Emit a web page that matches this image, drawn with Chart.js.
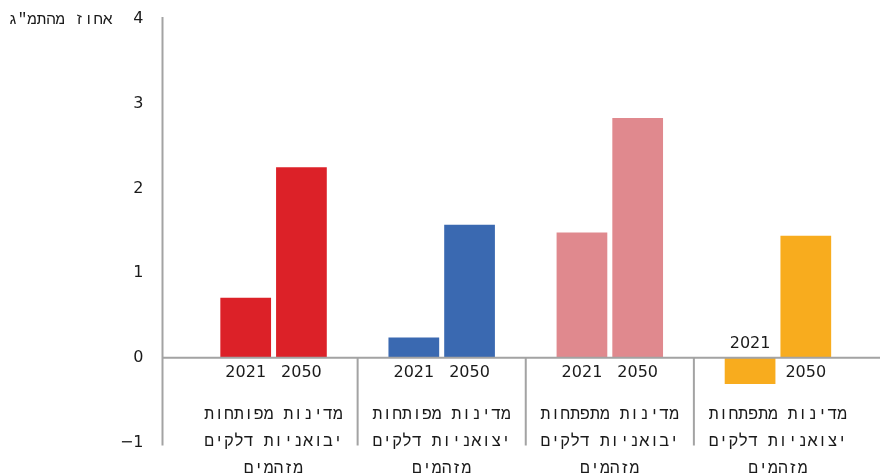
<!DOCTYPE html>
<html>
<head>
<meta charset="utf-8">
<script src="https://cdn.jsdelivr.net/npm/chart.js@4"></script>
<style>
  html, body { margin: 0; padding: 0; background: #fff; }
  #wrap { width: 880px; height: 474px; }
</style>
</head>
<body>
<div id="wrap"><canvas id="chart"></canvas></div>
<script>
const categories = [
  ["מדינות מפותחות", "יבואניות דלקים", "מזהמים"],
  ["מדינות מפותחות", "יצואניות דלקים", "מזהמים"],
  ["מדינות מתפתחות", "יבואניות דלקים", "מזהמים"],
  ["מדינות מתפתחות", "יצואניות דלקים", "מזהמים"]
];
const yearLabels = ["2021", "2050"];
const values2021 = [0.71, 0.24, 1.48, -0.31];
const values2050 = [2.25, 1.57, 2.83, 1.44];
const groupColors = ["#dc2128", "#3a69b1", "#e0898e", "#f8ac1e"];
const yTicks = [-1, 0, 1, 2, 3, 4];
const yTitle = "אחוז מהתמ\"ג";

const AXIS_COLOR = "#a3a3a3";
const TEXT_COLOR = "#1a1a1a";
const HEB_FONT = "'Liberation Mono', monospace";

Chart.defaults.font.family = "'DejaVu Sans', sans-serif";
Chart.defaults.font.size = 16;
Chart.defaults.color = TEXT_COLOR;

// axis lines, dividers, year labels and the y title
const decorPlugin = {
  id: "decor",
  afterDatasetsDraw(chart) {
    const { ctx, chartArea, scales: { x, y } } = chart;
    const zeroY = y.getPixelForValue(0);
    const axisX = chartArea.left - 27;
    ctx.save();
    ctx.strokeStyle = AXIS_COLOR;
    ctx.lineWidth = 2;
    ctx.beginPath();
    ctx.moveTo(axisX, chartArea.top - 2);
    ctx.lineTo(axisX, chartArea.bottom + 3);
    ctx.moveTo(axisX, zeroY);
    ctx.lineTo(chart.width, zeroY);
    for (let i = 1; i < categories.length; i++) {
      const dx = (x.getPixelForValue(i - 1) + x.getPixelForValue(i)) / 2;
      ctx.moveTo(dx, zeroY);
      ctx.lineTo(dx, chartArea.bottom + 3);
    }
    ctx.stroke();

    ctx.fillStyle = TEXT_COLOR;
    ctx.font = "16px 'DejaVu Sans'";
    ctx.textAlign = "center";
    ctx.textBaseline = "middle";
    chart.data.datasets.forEach((ds, di) => {
      chart.getDatasetMeta(di).data.forEach((bar, i) => {
        const v = ds.data[i];
        const ty = v >= 0 ? zeroY + 15.5 : zeroY - 14;
        ctx.fillText(yearLabels[di], bar.x, ty);
      });
    });

    ctx.font = "15.8px " + HEB_FONT;
    ctx.textAlign = "right";
    ctx.fillText(yTitle, axisX - 50, y.getPixelForValue(4) + 1);
    ctx.restore();
  }
};

new Chart(document.getElementById("chart").getContext("2d"), {
  type: "bar",
  data: {
    labels: categories,
    datasets: [
      { label: yearLabels[0], data: values2021, backgroundColor: groupColors },
      { label: yearLabels[1], data: values2050, backgroundColor: groupColors }
    ]
  },
  options: {
    responsive: true,
    maintainAspectRatio: false,
    animation: false,
    categoryPercentage: 0.663,
    barPercentage: 0.91,
    layout: { padding: { left: 0, right: 18, top: 19, bottom: 31.5 } },
    scales: {
      x: {
        position: { y: 0 },
        afterFit: scale => { scale.paddingLeft = 0; scale.paddingRight = 0; },
        grid: { display: false, drawTicks: false },
        border: { display: false },
        ticks: {
          padding: 43.5,
          maxRotation: 0,
          autoSkip: false,
          font: { family: HEB_FONT, size: 16.5, lineHeight: "27px" }
        }
      },
      y: {
        min: -1,
        max: 4,
        afterFit: scale => { scale.width = 189.5; },
        afterBuildTicks: scale => { scale.ticks = yTicks.map(v => ({ value: v })); },
        grid: { display: false, drawTicks: true, tickLength: 46 },
        border: { display: false },
        ticks: {
          padding: 0,
          callback: v => (v < 0 ? "\u2212" + Math.abs(v) : String(v))
        }
      }
    },
    plugins: {
      legend: { display: false },
      tooltip: { enabled: false }
    }
  },
  plugins: [decorPlugin]
});
</script>
</body>
</html>
